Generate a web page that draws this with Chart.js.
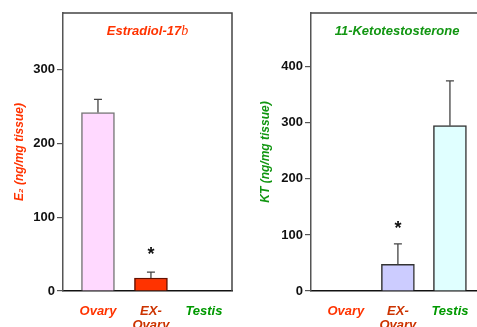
<!DOCTYPE html>
<html>
<head>
<meta charset="utf-8">
<script src="https://cdn.jsdelivr.net/npm/chart.js@4.4.0/dist/chart.umd.min.js"></script>
<style>
  body { margin: 0; background: #fff; }
  #wrap { position: relative; width: 477px; height: 327px; overflow: hidden; }
  #c1 { position: absolute; left: 0; top: 0; }
  #c2 { position: absolute; left: 240px; top: 0; }
</style>
</head>
<body>
<div id="wrap">
  <canvas id="c1" width="240" height="327"></canvas>
  <canvas id="c2" width="237" height="327"></canvas>
</div>
<script>
const categories = ["Ovary", ["EX-", "Ovary"], "Testis"];
const labelColors = ["#FF3300", "#CC3300", "#009900"];

// Estradiol-17b panel
const e2Ticks = [0, 100, 200, 300];
const e2Mean = [242, 17.6, null];
const e2Err = [18, 8, null];
const e2Star = [null, 55, null];
const e2Fill = ["#FFD9FF", "#FF3300", "#FFFFFF"];
const e2Edge = ["#777777", "#661100", "#333333"];

// 11-Ketotestosterone panel
const ktTicks = [0, 100, 200, 300, 400];
const ktMean = [null, 47.5, 295];
const ktErr = [null, 36.5, 80];
const ktStar = [null, 120, null];
const ktFill = ["#FFFFFF", "#CCCCFF", "#E0FFFF"];
const ktEdge = ["#333333", "#333333", "#333333"];

const FONT = "'Liberation Sans', Arial, sans-serif";

// frame + error bars + significance stars + panel title
const panelDecor = {
  id: "panelDecor",
  afterDatasetsDraw(chart, args, opts) {
    const ctx = chart.ctx;
    const area = chart.chartArea;
    const xs = chart.scales.x, ys = chart.scales.y;
    ctx.save();
    // frame (top and right)
    ctx.strokeStyle = "#444";
    ctx.lineWidth = 1.5;
    ctx.beginPath();
    ctx.moveTo(area.left, area.top);
    ctx.lineTo(area.right, area.top);
    if (opts.rightEdge) ctx.lineTo(area.right, area.bottom);
    ctx.stroke();

    // error bars (upper only)
    ctx.strokeStyle = "#444";
    ctx.lineWidth = 1.3;
    opts.mean.forEach((m, i) => {
      if (m == null || opts.err[i] == null) return;
      const x = xs.getPixelForValue(i);
      const y0 = ys.getPixelForValue(m);
      const y1 = ys.getPixelForValue(m + opts.err[i]);
      ctx.beginPath();
      ctx.moveTo(x, y0);
      ctx.lineTo(x, y1);
      ctx.moveTo(x - 4, y1);
      ctx.lineTo(x + 4, y1);
      ctx.stroke();
    });

    // stars
    ctx.fillStyle = "#111";
    ctx.font = "bold 18px " + FONT;
    ctx.textAlign = "center";
    ctx.textBaseline = "alphabetic";
    opts.star.forEach((s, i) => {
      if (s == null) return;
      ctx.fillText("*", xs.getPixelForValue(i), ys.getPixelForValue(s) + 10);
    });

    // title
    const cx = (area.left + area.right) / 2 + opts.titleShift;
    ctx.textBaseline = "middle";
    ctx.fillStyle = opts.titleColor;
    ctx.font = "italic bold 13px " + FONT;
    if (opts.titleTail) {
      const mainW = ctx.measureText(opts.title).width;
      ctx.font = "italic 14px 'Liberation Serif', serif";
      const tailW = ctx.measureText(opts.titleTail).width;
      const start = cx - (mainW + tailW) / 2;
      ctx.textAlign = "left";
      ctx.font = "italic bold 13px " + FONT;
      ctx.fillText(opts.title, start, 31);
      ctx.font = "italic 14px 'Liberation Serif', serif";
      ctx.fillText(opts.titleTail, start + mainW, 31);
    } else {
      ctx.textAlign = "center";
      ctx.fillText(opts.title, cx, 31);
    }
    ctx.restore();
  }
};

function makePanel(canvasId, cfg) {
  const points = cfg.mean.map((v, i) => ({ x: i, y: v }));
  return new Chart(document.getElementById(canvasId), {
    type: "bar",
    data: {
      datasets: [{
        data: points,
        backgroundColor: cfg.fill,
        borderColor: cfg.edge,
        borderWidth: 1.5,
        barThickness: 33
      }]
    },
    options: {
      responsive: false,
      animation: false,
      layout: { padding: { top: 13, right: cfg.padRight, left: 0, bottom: 0 } },
      plugins: {
        legend: { display: false },
        tooltip: { enabled: false },
        panelDecor: {
          mean: cfg.mean, err: cfg.err, star: cfg.star,
          title: cfg.title, titleTail: cfg.titleTail, titleColor: cfg.titleColor,
          titleShift: cfg.titleShift, rightEdge: cfg.rightEdge
        }
      },
      scales: {
        x: {
          type: "linear",
          offset: false,
          min: cfg.xMin,
          max: cfg.xMax,
          afterBuildTicks: s => { s.ticks = categories.map((c, i) => ({ value: i })); },
          afterFit: s => {
            s.height = 36;
            s.paddingLeft = 0;
            s.paddingRight = 0;
          },
          grid: { display: true, offset: false, drawOnChartArea: false, drawTicks: false },
          border: { color: "#111", width: 1.5 },
          ticks: {
            padding: 14,
            autoSkip: false,
            maxRotation: 0,
            font: { family: FONT, size: 13, weight: "bold", style: "italic", lineHeight: 1.05 },
            color: ctx => labelColors[ctx.index],
            callback: (v, i) => categories[i]
          }
        },
        y: {
          min: 0,
          max: cfg.yMax,
          afterBuildTicks: s => { s.ticks = cfg.yTicks.map(v => ({ value: v })); },
          afterFit: s => { s.width = cfg.yWidth; },
          grid: { drawOnChartArea: false, drawTicks: true, tickLength: 6, color: "#555", lineWidth: 1.2 },
          border: { color: "#555", width: 1.5 },
          ticks: {
            padding: 2,
            color: "#111",
            font: { family: FONT, size: 13, weight: "bold" }
          },
          title: {
            display: true,
            text: cfg.yTitle,
            color: cfg.titleColor,
            padding: { top: cfg.yTitlePad, bottom: 0 },
            font: { family: FONT, size: 12, weight: "bold", style: "italic" }
          }
        }
      }
    },
    plugins: [panelDecor]
  });
}

makePanel("c1", {
  mean: e2Mean, err: e2Err, star: e2Star, fill: e2Fill, edge: e2Edge, yTicks: e2Ticks,
  title: "Estradiol-17", titleTail: "b", titleColor: "#FF3300", titleShift: 0,
  yTitle: "E\u2082 (ng/mg tissue)", yTitlePad: 12, yWidth: 63, yMax: 377,
  xMin: -0.66, xMax: 2.53, padRight: 8, rightEdge: true
});

makePanel("c2", {
  mean: ktMean, err: ktErr, star: ktStar, fill: ktFill, edge: ktEdge, yTicks: ktTicks,
  title: "11-Ketotestosterone", titleTail: null, titleColor: "#129612", titleShift: 3,
  yTitle: "KT (ng/mg tissue)", yTitlePad: 18, yWidth: 71, yMax: 496,
  xMin: -0.67, xMax: 2.52, padRight: 0, rightEdge: false
});
</script>
</body>
</html>
